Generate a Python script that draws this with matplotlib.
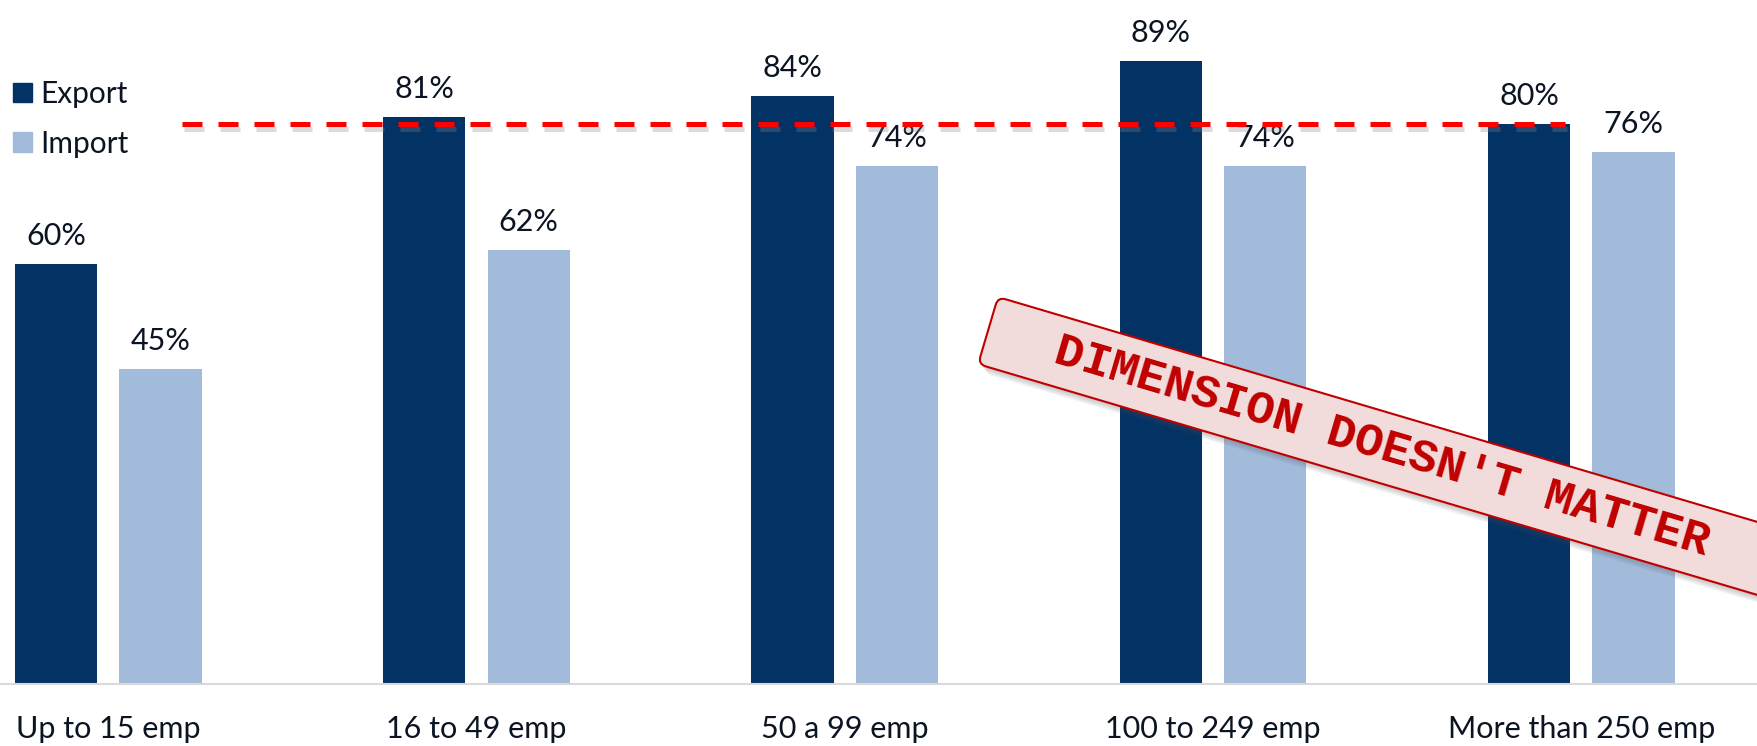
import matplotlib
matplotlib.use("Agg")
import matplotlib.pyplot as plt
import matplotlib.transforms as mtransforms
import matplotlib.patheffects as pe
import numpy as np
from matplotlib.patches import FancyBboxPatch, Patch

# data: share of firms by size class
categories = ["Up to 15 emp", "16 to 49 emp", "50 a 99 emp", "100 to 249 emp", "More than 250 emp"]
export_pct = [60, 81, 84, 89, 80]
import_pct = [45, 62, 74, 74, 76]
reference_pct = 80
stamp_text = "DIMENSION DOESN'T MATTER"

EXPORT_COLOR = '#033264'
IMPORT_COLOR = '#A2BBDB'
TEXT_COLOR = '#0B1423'
STAMP_RED = '#C00000'
STAMP_FILL = '#F2DCDB'

plt.rcParams['font.family'] = ['Lato', 'DejaVu Sans']

fig = plt.figure(figsize=(17.58, 7.46), dpi=100)
ax = fig.add_axes([0, 62 / 746, 1, 684 / 746])

x = np.arange(len(categories))
width = 0.2235
offset = 0.142

bars_exp = ax.bar(x - offset, export_pct, width, color=EXPORT_COLOR, label='Export')
bars_imp = ax.bar(x + offset, import_pct, width, color=IMPORT_COLOR, label='Import')

for bars, vals in ((bars_exp, export_pct), (bars_imp, import_pct)):
    for b, v in zip(bars, vals):
        ax.annotate(f"{v}%", (b.get_x() + b.get_width() / 2, v), xytext=(0, 10),
                    textcoords='offset points', ha='center', va='bottom',
                    fontsize=22, color=TEXT_COLOR)

ax.set_xlim(-0.294, 4.480)
ax.set_ylim(0, 97.7)
ax.set_xticks(x)
ax.set_xticklabels(categories, fontsize=22, color=TEXT_COLOR)
ax.tick_params(axis='x', length=0, pad=22)
ax.set_yticks([])
for side in ('left', 'right', 'top'):
    ax.spines[side].set_visible(False)
ax.spines['bottom'].set_color('#D9D9D9')
ax.spines['bottom'].set_linewidth(1.5)

# dashed reference line at the large-firm export level
ax.axhline(reference_pct, xmin=182 / 1758, xmax=1565 / 1758, color='#FF0000', lw=3.6,
           linestyle=(0, (4, 3.2)), dash_capstyle='butt', zorder=10,
           path_effects=[pe.SimpleLineShadow(offset=(1.5, -4), shadow_color='#888888', alpha=0.3),
                         pe.Normal()])

fig.legend(handles=[Patch(color=EXPORT_COLOR, label='Export'), Patch(color=IMPORT_COLOR, label='Import')],
           loc='upper left', bbox_to_anchor=(13 / 1758, 1 - 80 / 746), frameon=False,
           fontsize=21.5, handlelength=0.62, handleheight=0.62, handletextpad=0.3,
           labelspacing=0.72, borderpad=0, borderaxespad=0, labelcolor=TEXT_COLOR)

# tilted stamp
angle = -16.5
rot = mtransforms.Affine2D().rotate_deg_around(9.98, 4.49, angle) + fig.dpi_scale_trans
for i in range(6):
    shadow = FancyBboxPatch((9.98, 3.79), 10.0, 0.70,
                            boxstyle='round,pad=0,rounding_size=0.08',
                            fc='#555555', ec='none', alpha=0.06,
                            transform=rot + mtransforms.Affine2D().translate(1 + i, -(2 + 1.5 * i)))
    fig.add_artist(shadow)
stamp = FancyBboxPatch((9.98, 3.79), 10.0, 0.70, boxstyle='round,pad=0,rounding_size=0.08',
                       fc=STAMP_FILL, ec=STAMP_RED, lw=1.5, transform=rot)
fig.add_artist(stamp)
fig.text(14.09, 4.14, stamp_text, transform=rot, rotation=angle, rotation_mode='anchor',
         ha='center', va='center', family='Liberation Mono', weight='bold', size=34,
         color=STAMP_RED)

fig.savefig('out.png', dpi=100)
